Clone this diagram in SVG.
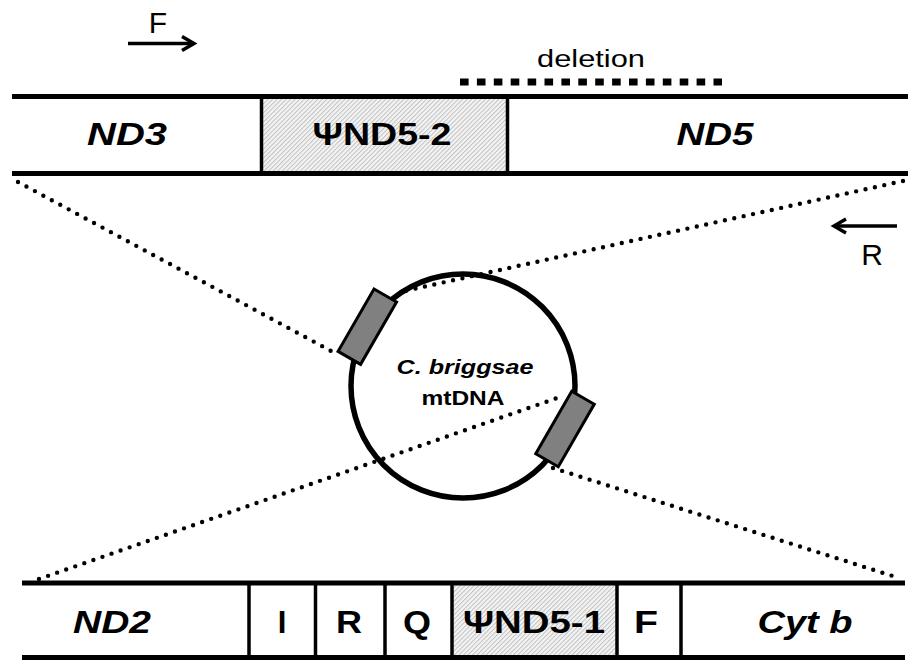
<svg xmlns="http://www.w3.org/2000/svg" width="908" height="660" viewBox="0 0 908 660">
<defs>
<pattern id="hatch" patternUnits="userSpaceOnUse" width="3.2" height="3.2" patternTransform="rotate(45)">
<rect width="3.2" height="3.2" fill="#f3f3f3"/>
<line x1="0.5" y1="0" x2="0.5" y2="3.2" stroke="#bdbdbd" stroke-width="0.9"/>
</pattern>
<marker id="chev" markerUnits="userSpaceOnUse" markerWidth="20" markerHeight="20" viewBox="-2 -2 20 20" refX="13" refY="7" orient="auto">
<path d="M1,0 L13,7 L1,14" fill="none" stroke="#000" stroke-width="3.5" stroke-linejoin="miter"/>
</marker>
</defs>
<style>
.bar{stroke:#000;stroke-width:4.8;fill:none}
.div{stroke:#000;stroke-width:3.5;fill:none}
.dot{stroke:#000;stroke-width:4.4;stroke-linecap:round;stroke-dasharray:0 9.6;fill:none}
.gene{font-family:"Liberation Sans",Arial,sans-serif;font-weight:bold;font-style:italic;font-size:31px;text-anchor:middle}
.lbl{font-family:"Liberation Sans",Arial,sans-serif;font-weight:bold;font-size:31px;text-anchor:middle}
.thin{font-family:"Liberation Sans",Arial,sans-serif;font-size:30px;text-anchor:middle}
.box{fill:#808080;stroke:#000;stroke-width:3}
.prim{stroke:#000;stroke-width:3.5;fill:none;marker-end:url(#chev)}
</style>
<rect width="908" height="660" fill="#fff"/>

<g id="connectors">
<line class="dot" x1="18" y1="182" x2="333" y2="352"/>
<line class="dot" x1="903" y1="181" x2="400" y2="292"/>
<line class="dot" x1="39" y1="579" x2="560" y2="397"/>
<line class="dot" x1="553" y1="468" x2="899" y2="578"/>
</g>

<g id="primer-F">
<line class="prim" x1="128" y1="43.5" x2="194" y2="43.5"/>
<text class="thin" x="158" y="33">F</text>
</g>
<g id="primer-R">
<line class="prim" x1="897" y1="226" x2="834" y2="226"/>
<text class="thin" x="872" y="265">R</text>
</g>
<g id="deletion">
<text class="thin" x="591" y="67" textLength="108" lengthAdjust="spacingAndGlyphs" style="font-size:23px">deletion</text>
<line x1="460" y1="82" x2="722" y2="82" stroke="#000" stroke-width="7" stroke-dasharray="8.6 8.3"/>
</g>

<g id="top-region">
<g id="ND5-2-top">
<rect x="261.5" y="96.5" width="246" height="77" fill="url(#hatch)"/>
<line class="div" x1="261.5" y1="96.5" x2="261.5" y2="173.5"/>
<line class="div" x1="507.5" y1="96.5" x2="507.5" y2="173.5"/>
<text class="lbl" x="382" y="145" textLength="139" lengthAdjust="spacingAndGlyphs">ΨND5-2</text>
</g>
<g id="ND3"><text class="gene" x="127" y="145" textLength="80" lengthAdjust="spacingAndGlyphs">ND3</text></g>
<g id="ND5"><text class="gene" x="715" y="145" textLength="77" lengthAdjust="spacingAndGlyphs">ND5</text></g>
<line class="bar" x1="12" y1="96.5" x2="908" y2="96.5"/>
<line class="bar" x1="12" y1="173.5" x2="908" y2="173.5"/>
</g>

<g id="mtDNA">
<circle cx="463" cy="386" r="112" fill="none" stroke="#000" stroke-width="5.5"/>
<text class="gene" x="465" y="374" style="font-size:20px" textLength="137" lengthAdjust="spacingAndGlyphs">C. briggsae</text>
<text class="lbl" x="463" y="405" style="font-size:20px" textLength="83" lengthAdjust="spacingAndGlyphs">mtDNA</text>
</g>
<g id="copy-1"><rect class="box" x="-13" y="-36" width="26" height="72" transform="translate(367.3 326.7) rotate(30)"/></g>
<g id="copy-2"><rect class="box" x="-13" y="-36" width="26" height="72" transform="translate(565 429) rotate(30)"/></g>

<g id="bottom-region">
<g id="ND5-1-bottom">
<rect x="452" y="583" width="165" height="75" fill="url(#hatch)"/>
<text class="lbl" x="534" y="633" textLength="142" lengthAdjust="spacingAndGlyphs">ΨND5-1</text>
</g>
<g id="ND2"><text class="gene" x="112" y="633" textLength="78" lengthAdjust="spacingAndGlyphs">ND2</text></g>
<g id="tRNA-I"><text class="lbl" x="282" y="633">I</text></g>
<g id="tRNA-R"><text class="lbl" x="349" y="633" textLength="26" lengthAdjust="spacingAndGlyphs">R</text></g>
<g id="tRNA-Q"><text class="lbl" x="417" y="633" textLength="28" lengthAdjust="spacingAndGlyphs">Q</text></g>
<g id="tRNA-F"><text class="lbl" x="646" y="633" textLength="24" lengthAdjust="spacingAndGlyphs">F</text></g>
<g id="Cytb"><text class="gene" x="805" y="633" textLength="95" lengthAdjust="spacingAndGlyphs">Cyt b</text></g>
<line class="div" x1="249" y1="583" x2="249" y2="658"/>
<line class="div" x1="315.5" y1="583" x2="315.5" y2="658"/>
<line class="div" x1="385" y1="583" x2="385" y2="658"/>
<line class="div" x1="452" y1="583" x2="452" y2="658"/>
<line class="div" x1="617" y1="583" x2="617" y2="658"/>
<line class="div" x1="681" y1="583" x2="681" y2="658"/>
<line class="bar" x1="22" y1="583" x2="905" y2="583"/>
<line class="bar" x1="22" y1="657.5" x2="905" y2="657.5"/>
</g>
</svg>
